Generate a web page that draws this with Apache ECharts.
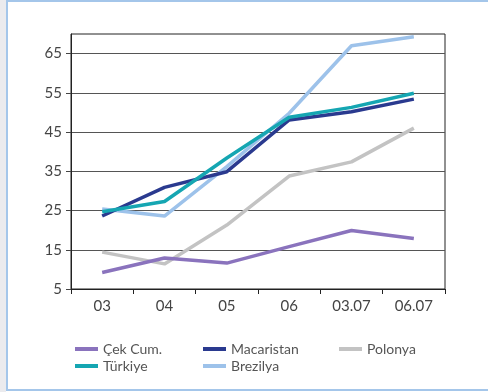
<!DOCTYPE html>
<html>
<head>
<meta charset="utf-8">
<script src="https://cdn.jsdelivr.net/npm/echarts@6/dist/echarts.min.js"></script>
<style>
  html, body { margin: 0; padding: 0; background: #ffffff; }
  #wrap { position: relative; width: 488px; height: 392px; overflow: hidden; background: #ffffff; }
  #strip { position: absolute; left: 0; top: 0; width: 6px; height: 392px; background: #ebebee; }
  #frame { position: absolute; left: 6px; top: 0; width: 490px; height: 391px; box-sizing: border-box;
           border-left: 2px solid #a4c6ea; border-top: 2px solid #a4c6ea; border-bottom: 2px solid #a4c6ea; }
  #chart { position: absolute; left: 0; top: 0; width: 488px; height: 392px; }
</style>
</head>
<body>
<div id="wrap">
  <div id="strip"></div>
  <div id="frame"></div>
  <div id="chart"></div>
</div>
<script>
const categories = ['03', '04', '05', '06', '03.07', '06.07'];
const cekCum     = [9.2, 12.9, 11.6, 15.8, 19.9, 17.9];
const macaristan = [23.6, 30.9, 34.9, 48.1, 50.2, 53.4];
const polonya    = [14.4, 11.4, 21.3, 33.8, 37.4, 46.0];
const turkiye    = [24.7, 27.3, 38.4, 48.8, 51.3, 54.9];
const brezilya   = [25.4, 23.6, 36.2, 49.8, 67.0, 69.3];
const yTicks     = [5, 15, 25, 35, 45, 55, 65];
const seriesNames = ['Çek Cum.', 'Macaristan', 'Polonya', 'Türkiye', 'Brezilya'];

const colors = {
  'Çek Cum.': '#8a73bd',
  'Macaristan': '#2a3a8f',
  'Polonya': '#c3c3c3',
  'Türkiye': '#15a6b2',
  'Brezilya': '#9dc2ea'
};
const dataMap = {
  'Çek Cum.': cekCum,
  'Macaristan': macaristan,
  'Polonya': polonya,
  'Türkiye': turkiye,
  'Brezilya': brezilya
};
const legendPos = {
  'Çek Cum.': [75, 342],
  'Macaristan': [203, 342],
  'Polonya': [339, 342],
  'Türkiye': [75, 359],
  'Brezilya': [203, 359]
};
const fontFam = 'Lato, "Noto Sans", sans-serif';

const chart = echarts.init(document.getElementById('chart'), null, { renderer: 'canvas' });
const drawOrder = ['Polonya', 'Çek Cum.', 'Brezilya', 'Macaristan', 'Türkiye'];
chart.setOption({
  animation: false,
  backgroundColor: 'transparent',
  grid: { left: 71, top: 34, right: 43, bottom: 103, show: true, borderColor: '#222', borderWidth: 1, containLabel: false },
  xAxis: {
    type: 'category',
    data: categories,
    boundaryGap: true,
    axisLine: { show: true, lineStyle: { color: '#222', width: 1 } },
    axisTick: { show: true, length: 5, lineStyle: { color: '#222' } },
    axisLabel: { color: '#444', fontSize: 15, fontFamily: fontFam, margin: 10 },
    splitLine: { show: false }
  },
  yAxis: {
    type: 'value',
    min: 5,
    max: 70,
    axisLine: { show: true, lineStyle: { color: '#222' } },
    axisTick: { show: true, length: 5, customValues: yTicks, lineStyle: { color: '#444' } },
    axisLabel: { color: '#444', fontSize: 15, fontFamily: fontFam, margin: 9, customValues: yTicks },
    splitLine: { show: true, lineStyle: { color: '#555', width: 1 } }
  },
  legend: seriesNames.map(n => ({
    data: [n],
    left: legendPos[n][0],
    top: legendPos[n][1],
    padding: 0,
    icon: 'rect',
    itemWidth: 23,
    itemHeight: 4,
    itemGap: 0,
    selectedMode: false,
    textStyle: { color: '#555', fontSize: 14, fontFamily: fontFam }
  })),
  series: drawOrder.map(n => ({
    name: n,
    type: 'line',
    data: dataMap[n],
    symbol: 'none',
    color: colors[n],
    lineStyle: { width: 3.5, color: colors[n] }
  }))
});
</script>
</body>
</html>
